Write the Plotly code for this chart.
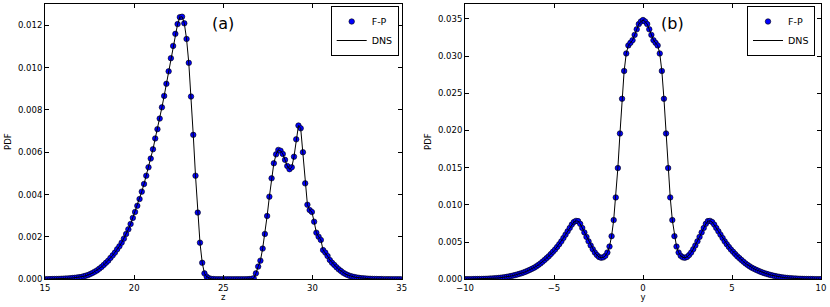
import numpy as np
import plotly.graph_objects as go

# ---------------- data ----------------
# panel (a): PDF versus z (regular grid)
z_start, z_step = 15.03, 0.1255
pdf_z = [
    0.007e-3, 0.008e-3, 0.010e-3, 0.012e-3, 0.014e-3, 0.017e-3, 0.020e-3, 0.025e-3, 0.030e-3, 0.035e-3,
    0.040e-3, 0.050e-3, 0.060e-3, 0.070e-3, 0.080e-3, 0.100e-3, 0.110e-3, 0.140e-3, 0.170e-3, 0.200e-3,
    0.250e-3, 0.300e-3, 0.360e-3, 0.420e-3, 0.500e-3, 0.580e-3, 0.680e-3, 0.780e-3, 0.880e-3, 1.010e-3,
    1.130e-3, 1.260e-3, 1.420e-3, 1.560e-3, 1.730e-3, 1.920e-3, 2.140e-3, 2.360e-3, 2.610e-3, 2.900e-3,
    3.180e-3, 3.470e-3, 3.790e-3, 4.140e-3, 4.500e-3, 4.890e-3, 5.290e-3, 5.700e-3, 6.140e-3, 6.650e-3,
    7.090e-3, 7.590e-3, 8.120e-3, 8.660e-3, 9.230e-3, 9.820e-3, 10.44e-3, 11.02e-3, 11.59e-3, 12.05e-3,
    12.38e-3, 12.40e-3, 12.09e-3, 11.35e-3, 10.22e-3, 8.630e-3, 6.820e-3, 4.890e-3, 3.150e-3, 1.730e-3,
    0.780e-3, 0.280e-3, 0.120e-3, 0.050e-3, 0.020e-3, 0.010e-3, 0.005e-3, 0.004e-3, 0.003e-3, 0.003e-3,
    0.002e-3, 0.002e-3, 0.002e-3, 0.002e-3, 0.002e-3, 0.002e-3, 0.002e-3, 0.002e-3, 0.003e-3, 0.004e-3,
    0.006e-3, 0.010e-3, 0.020e-3, 0.050e-3, 0.280e-3, 0.600e-3, 0.880e-3, 1.450e-3, 2.140e-3, 2.990e-3,
    3.900e-3, 4.770e-3, 5.480e-3, 5.900e-3, 6.110e-3, 6.070e-3, 5.920e-3, 5.640e-3, 5.350e-3, 5.200e-3,
    5.290e-3, 5.790e-3, 6.610e-3, 7.260e-3, 7.130e-3, 6.000e-3, 4.530e-3, 3.520e-3, 3.270e-3, 3.180e-3,
    2.720e-3, 2.200e-3, 2.010e-3, 1.860e-3, 1.380e-3, 1.260e-3, 1.100e-3, 0.910e-3, 0.780e-3, 0.680e-3,
    0.570e-3, 0.470e-3, 0.390e-3, 0.310e-3, 0.250e-3, 0.200e-3, 0.160e-3, 0.130e-3, 0.105e-3, 0.085e-3,
    0.070e-3, 0.055e-3, 0.045e-3, 0.037e-3, 0.030e-3, 0.025e-3, 0.020e-3, 0.017e-3, 0.014e-3, 0.012e-3,
    0.010e-3, 0.008e-3, 0.007e-3, 0.006e-3, 0.005e-3, 0.004e-3, 0.004e-3, 0.003e-3, 0.003e-3, 0.002e-3,
    0.002e-3,
]

# panel (b): PDF versus y (regular grid, -10 .. 10)
y_start, y_end = -10.0, 10.0
pdf_y = [
    0.015e-3, 0.017e-3, 0.020e-3, 0.023e-3, 0.027e-3, 0.032e-3, 0.037e-3, 0.043e-3, 0.050e-3, 0.058e-3,
    0.068e-3, 0.080e-3, 0.095e-3, 0.110e-3, 0.130e-3, 0.155e-3, 0.180e-3, 0.210e-3, 0.240e-3, 0.280e-3,
    0.330e-3, 0.380e-3, 0.440e-3, 0.500e-3, 0.570e-3, 0.650e-3, 0.730e-3, 0.820e-3, 0.920e-3, 1.030e-3,
    1.150e-3, 1.270e-3, 1.410e-3, 1.560e-3, 1.730e-3, 1.920e-3, 2.120e-3, 2.350e-3, 2.600e-3, 2.850e-3,
    3.100e-3, 3.400e-3, 3.700e-3, 4.000e-3, 4.350e-3, 4.720e-3, 5.100e-3, 5.550e-3, 6.000e-3, 6.450e-3,
    6.900e-3, 7.350e-3, 7.700e-3, 7.850e-3, 7.820e-3, 7.450e-3, 6.900e-3, 6.300e-3, 5.700e-3, 5.100e-3,
    4.550e-3, 4.050e-3, 3.600e-3, 3.250e-3, 3.000e-3, 2.900e-3, 2.950e-3, 3.150e-3, 3.600e-3, 4.400e-3,
    5.800e-3, 7.960e-3, 11.00e-3, 14.95e-3, 19.60e-3, 24.26e-3, 28.00e-3, 30.35e-3, 31.43e-3, 31.78e-3,
    32.14e-3, 32.85e-3, 33.60e-3, 34.30e-3, 34.65e-3,
    34.85e-3,
    34.65e-3, 34.30e-3, 33.60e-3, 32.85e-3, 32.14e-3,
    31.78e-3, 31.43e-3, 30.35e-3, 28.00e-3, 24.26e-3, 19.60e-3, 14.95e-3, 11.00e-3, 7.960e-3, 5.800e-3,
    4.400e-3, 3.600e-3, 3.150e-3, 2.950e-3, 2.900e-3, 3.000e-3, 3.250e-3, 3.600e-3, 4.050e-3, 4.550e-3,
    5.100e-3, 5.700e-3, 6.300e-3, 6.900e-3, 7.450e-3, 7.820e-3, 7.850e-3, 7.700e-3, 7.350e-3, 6.900e-3,
    6.450e-3, 6.000e-3, 5.550e-3, 5.100e-3, 4.720e-3, 4.350e-3, 4.000e-3, 3.700e-3, 3.400e-3, 3.100e-3,
    2.850e-3, 2.600e-3, 2.350e-3, 2.120e-3, 1.920e-3, 1.730e-3, 1.560e-3, 1.410e-3, 1.270e-3, 1.150e-3,
    1.030e-3, 0.920e-3, 0.820e-3, 0.730e-3, 0.650e-3, 0.570e-3, 0.500e-3, 0.440e-3, 0.380e-3, 0.330e-3,
    0.280e-3, 0.240e-3, 0.210e-3, 0.180e-3, 0.155e-3, 0.130e-3, 0.110e-3, 0.095e-3, 0.080e-3, 0.068e-3,
    0.058e-3, 0.050e-3, 0.043e-3, 0.037e-3, 0.032e-3, 0.027e-3, 0.023e-3, 0.020e-3, 0.017e-3, 0.015e-3,
]

z_ticks = [15, 20, 25, 30, 35]
y_ticks = [-10, -5, 0, 5, 10]
pdf_ticks_a = [0.000, 0.002, 0.004, 0.006, 0.008, 0.010, 0.012]
pdf_ticks_b = [0.000, 0.005, 0.010, 0.015, 0.020, 0.025, 0.030, 0.035]

z_grid = z_start + z_step * np.arange(len(pdf_z))
y_grid = np.linspace(y_start, y_end, len(pdf_y))

# ---------------- figure ----------------
FONT = "DejaVu Sans"
W, H = 830, 307

marker_style = dict(color="#0000ff", size=5.5, line=dict(color="black", width=0.6))
line_style = dict(color="black", width=1)

fig = go.Figure()
fig.add_trace(go.Scatter(x=z_grid, y=pdf_z, mode="markers", name="F-P", marker=marker_style,
                         xaxis="x", yaxis="y", legend="legend"))
fig.add_trace(go.Scatter(x=z_grid, y=pdf_z, mode="lines", name="DNS", line=line_style,
                         xaxis="x", yaxis="y", legend="legend"))
fig.add_trace(go.Scatter(x=y_grid, y=pdf_y, mode="markers", name="F-P", marker=marker_style,
                         xaxis="x2", yaxis="y2", legend="legend2"))
fig.add_trace(go.Scatter(x=y_grid, y=pdf_y, mode="lines", name="DNS", line=line_style,
                         xaxis="x2", yaxis="y2", legend="legend2"))

axis_common = dict(
    showline=True, linecolor="black", linewidth=1, mirror="ticks",
    ticks="inside", ticklen=4, tickwidth=1, tickcolor="black",
    showgrid=False, zeroline=False, automargin=False,
    tickfont=dict(family=FONT, size=8.5, color="black"),
)
title_font = dict(family=FONT, size=8.5, color="black")

y_dom = [1 - 279.3 / H, 1 - 4 / H]
fig.update_layout(
    width=W, height=H,
    margin=dict(l=0, r=0, t=0, b=0),
    paper_bgcolor="white", plot_bgcolor="white",
    font=dict(family=FONT, color="black"),
    hovermode=False,
    xaxis=dict(domain=[45 / W, 401.7 / W], range=[15, 35], tickvals=z_ticks, anchor="y",
               title=dict(text="z", font=title_font, standoff=2), **axis_common),
    yaxis=dict(domain=y_dom, range=[0, 0.013], tickvals=pdf_ticks_a, tickformat=".3f", anchor="x",
               title=dict(text="PDF", font=title_font, standoff=4), **axis_common),
    xaxis2=dict(domain=[465 / W, 821 / W], range=[-10, 10], tickvals=y_ticks, anchor="y2",
                title=dict(text="y", font=title_font, standoff=2), **axis_common),
    yaxis2=dict(domain=y_dom, range=[0, 0.037], tickvals=pdf_ticks_b, tickformat=".3f", anchor="x2",
                title=dict(text="PDF", font=title_font, standoff=4), **axis_common),
    legend=dict(x=398.7 / W, y=1 - 6 / H, xanchor="right", yanchor="top",
                bordercolor="black", borderwidth=1, bgcolor="white",
                font=dict(family=FONT, size=9.5, color="black"), tracegroupgap=0),
    legend2=dict(x=815 / W, y=1 - 6 / H, xanchor="right", yanchor="top",
                 bordercolor="black", borderwidth=1, bgcolor="white",
                 font=dict(family=FONT, size=9.5, color="black"), tracegroupgap=0),
    annotations=[
        dict(text="(a)", x=25, y=0.0121, xref="x", yref="y", showarrow=False,
             font=dict(family=FONT, size=16, color="black")),
        dict(text="(b)", x=1.63, y=0.0344, xref="x2", yref="y2", showarrow=False,
             font=dict(family=FONT, size=16, color="black")),
    ],
)

fig.write_html(
    "out.html",
    config={"displayModeBar": False, "staticPlot": True},
    post_script="document.body.style.margin='0px'; document.body.style.overflow='hidden';",
)
